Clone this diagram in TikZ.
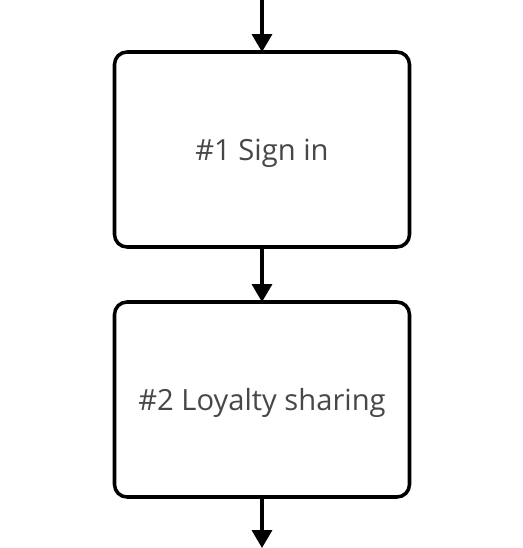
\documentclass[tikz,border=0pt]{standalone}
\usepackage{fontspec}
\setmainfont{Open Sans}
\usetikzlibrary{arrows.meta, positioning}

\begin{document}
\begin{tikzpicture}[
                    stagebox/.style={draw, line width=2pt, rounded corners=0.25cm,
                        minimum width=5.9cm, minimum height=3.9cm, outer sep=0pt,
                        text depth=0pt, text=black!72, font=\fontsize{16.6}{20}\selectfont},
                    flow/.style={line width=2pt, -{Triangle[width=0.4cm, length=0.36cm]}}
                ]
                    \useasboundingbox (0,0) rectangle (10.44,-10.96);

                    \coordinate (entry) at (5.24,0);
                    \node[stagebox] (signin) at (5.24,-2.99) {\#1 Sign in};
                    \node[stagebox, below=1.1cm of signin] (loyalty) {\#2 Loyalty sharing};
                    \coordinate (exit) at (5.24,-10.96);

                    \draw[flow] (entry) -- (signin);
                    \draw[flow] (signin) -- (loyalty);
                    \draw[flow] (loyalty) -- (exit);

                \end{tikzpicture}
\end{document}
